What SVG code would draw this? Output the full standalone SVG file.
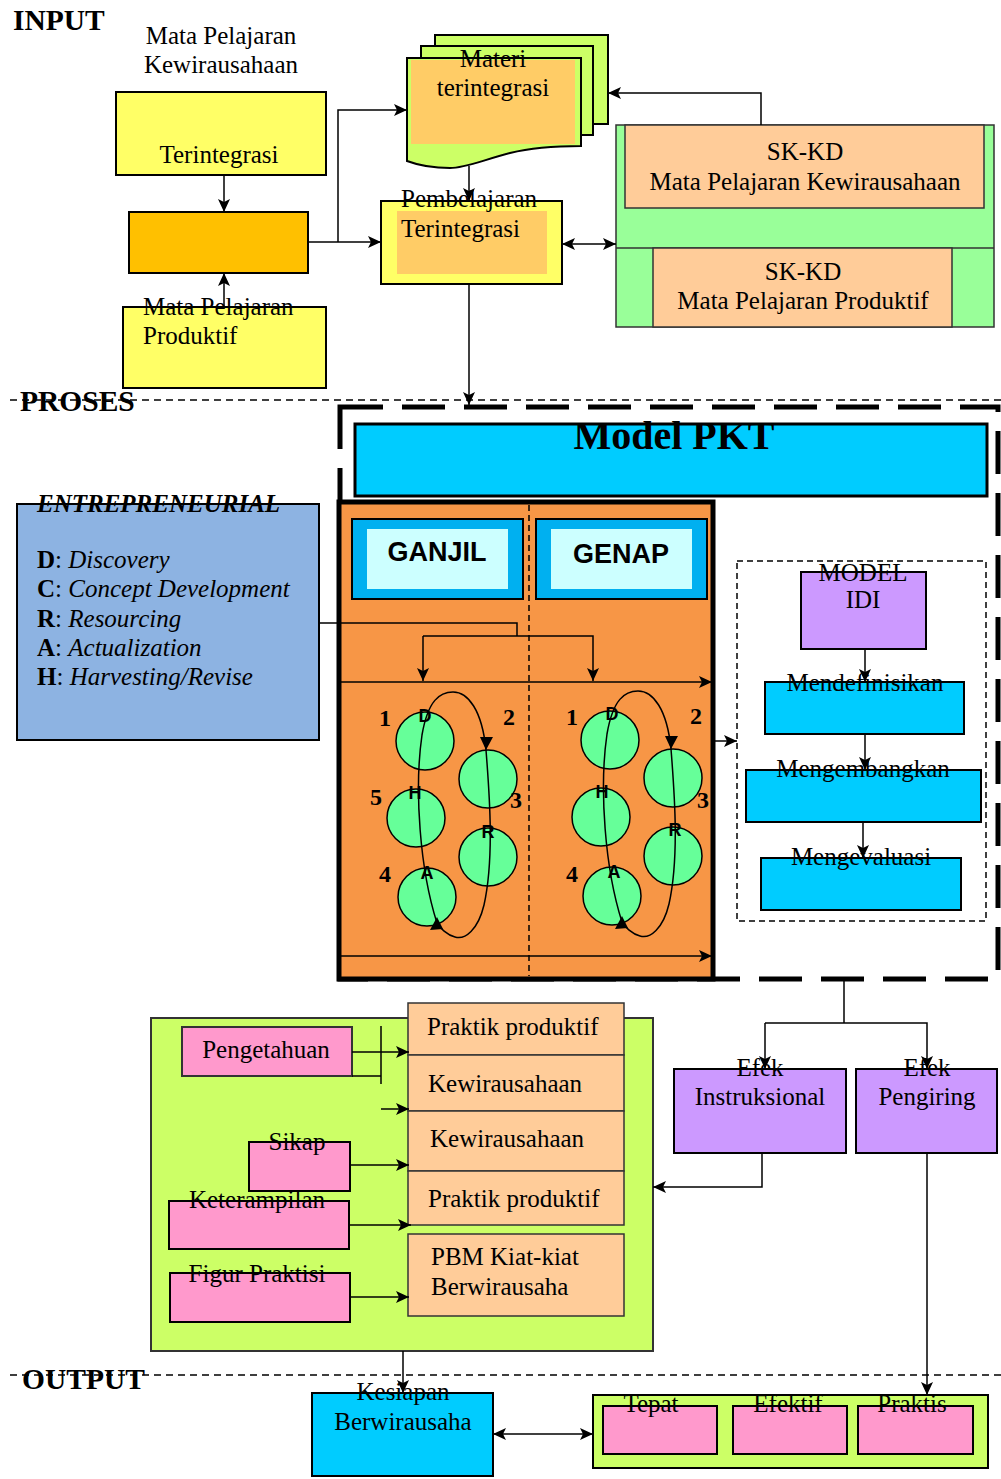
<svg xmlns="http://www.w3.org/2000/svg" width="1001" height="1479" viewBox="0 0 1001 1479">
<defs>
<style>
text{font-family:"Liberation Serif","Times New Roman",serif;font-size:25px;fill:#000}
.c{text-anchor:middle}
.hb{font-weight:bold;font-size:29.5px}
.sans{font-family:"Liberation Sans",Arial,sans-serif;font-weight:bold}
.lt{font-family:"Liberation Sans",Arial,sans-serif;font-weight:bold;font-size:18px;text-anchor:middle}
.num{font-weight:bold;text-anchor:middle;font-size:24px}
.bx{stroke:#000;stroke-width:2}
.ln{fill:none;stroke:#000;stroke-width:1.5}
.arr{marker-end:url(#ah)}
.dbl{marker-start:url(#ah);marker-end:url(#ah)}
.sep{fill:none;stroke:#000;stroke-width:1.5;stroke-dasharray:7 5}
.yel{fill:#FFFF66}
.cy{fill:#00CCFF}
.pk{fill:#FF99CC}
.pu{fill:#CC99FF}
.or{fill:#FFCC99}
.lg{fill:#CCFF66}
.circ{fill:#66FF99;stroke:#000;stroke-width:1.5}
</style>
<marker id="ah" markerUnits="userSpaceOnUse" markerWidth="14" markerHeight="12" refX="13" refY="6" orient="auto-start-reverse" viewBox="0 0 14 12"><path d="M0,0 L13,6 L0,12 L3,6 z" fill="#000"/></marker>
</defs>
<rect width="1001" height="1479" fill="#fff"/>

<!-- section separators -->
<g id="separators">
<line class="sep" x1="10" y1="400" x2="1001" y2="400"/>
<line class="sep" x1="10" y1="1375" x2="1001" y2="1375"/>
<text class="hb" x="13" y="30">INPUT</text>
<text class="hb" x="20" y="411">PROSES</text>
<text class="hb" x="22" y="1389">OUTPUT</text>
</g>

<!-- INPUT nodes -->
<g id="label-mpk">
<text class="c" x="221" y="44">Mata Pelajaran</text>
<text class="c" x="221" y="73">Kewirausahaan</text>
</g>
<g id="node-terintegrasi">
<rect class="bx yel" x="116" y="92" width="210" height="83"/>
<text class="c" x="219" y="163">Terintegrasi</text>
</g>
<g id="node-amber">
<rect class="bx" x="129" y="212" width="179" height="61" fill="#FFC000"/>
</g>
<g id="node-produktif">
<rect class="bx yel" x="123" y="307" width="203" height="81"/>
<text x="143" y="315">Mata Pelajaran</text>
<text x="143" y="344">Produktif</text>
</g>
<g id="node-materi">
<rect x="435" y="35" width="173" height="89" fill="#CCFF66" stroke="#000" stroke-width="2"/>
<rect x="421" y="46" width="172" height="89" fill="#CCFF66" stroke="#000" stroke-width="2"/>
<path d="M407,58 H581 V146 C555,146 530,148 510,153 C480,161 465,168 450,168 C430,168 415,164 407,161 Z" fill="#CCFF66" stroke="#000" stroke-width="2"/>
<rect x="411" y="60" width="164" height="84" fill="#FFCC66"/>
<text class="c" x="493" y="67">Materi</text>
<text class="c" x="493" y="96">terintegrasi</text>
</g>
<g id="node-pembelajaran">
<rect class="bx yel" x="381" y="201" width="181" height="83"/>
<rect x="397" y="211" width="150" height="63" fill="#FFCC66"/>
<text x="401" y="207">Pembelajaran</text>
<text x="401" y="237">Terintegrasi</text>
</g>
<g id="node-skkd">
<rect x="616" y="125" width="378" height="202" fill="#99FF99" stroke="#333" stroke-width="1.5"/>
<rect x="625" y="125" width="359" height="83" class="or" stroke="#333" stroke-width="1.5"/>
<line x1="616" y1="248" x2="994" y2="248" stroke="#333" stroke-width="1.5"/>
<rect x="653" y="248" width="299" height="79" class="or" stroke="#333" stroke-width="1.5"/>
<text class="c" x="805" y="160">SK-KD</text>
<text class="c" x="805" y="190">Mata Pelajaran Kewirausahaan</text>
<text class="c" x="803" y="280">SK-KD</text>
<text class="c" x="803" y="309">Mata Pelajaran Produktif</text>
</g>

<!-- PROSES -->
<g id="frame-model-pkt">
<rect x="340" y="407" width="658" height="572" fill="none" stroke="#000" stroke-width="5" stroke-dasharray="43 19"/>
</g>
<g id="node-model-pkt">
<rect x="355" y="424" width="632" height="72" class="cy" stroke="#000" stroke-width="3"/>
<text class="c" x="674" y="449" style="font-size:40px;font-weight:bold">Model PKT</text>
</g>
<g id="node-entrepreneurial">
<rect x="17" y="504" width="302" height="236" fill="#8DB3E2" stroke="#000" stroke-width="2"/>
<text x="37" y="512" style="font-weight:bold;font-style:italic">ENTREPRENEURIAL</text>
<text x="37" y="568"><tspan font-weight="bold">D</tspan>: <tspan font-style="italic">Discovery</tspan></text>
<text x="37" y="597"><tspan font-weight="bold">C</tspan>: <tspan font-style="italic">Concept Development</tspan></text>
<text x="37" y="627"><tspan font-weight="bold">R</tspan>: <tspan font-style="italic">Resourcing</tspan></text>
<text x="37" y="656"><tspan font-weight="bold">A</tspan>: <tspan font-style="italic">Actualization</tspan></text>
<text x="37" y="685"><tspan font-weight="bold">H</tspan>: <tspan font-style="italic">Harvesting/Revise</tspan></text>
</g>
<g id="node-panel">
<rect x="339" y="502" width="374" height="477" fill="#F79646" stroke="#000" stroke-width="5"/>
<line x1="529" y1="505" x2="529" y2="976" stroke="#000" stroke-width="1.5" stroke-dasharray="6 4"/>
</g>
<g id="node-ganjil">
<rect x="352" y="519" width="171" height="80" fill="#00B0F0" stroke="#000" stroke-width="2"/>
<rect x="367" y="529" width="141" height="60" fill="#CCFFFF"/>
<text class="sans c" x="437" y="561" style="font-size:27px">GANJIL</text>
</g>
<g id="node-genap">
<rect x="536" y="519" width="171" height="80" fill="#00B0F0" stroke="#000" stroke-width="2"/>
<rect x="551" y="529" width="141" height="60" fill="#CCFFFF"/>
<text class="sans c" x="621" y="563" style="font-size:27px">GENAP</text>
</g>
<g id="cycle-ganjil">
<circle class="circ" cx="425" cy="741" r="29"/>
<circle class="circ" cx="488" cy="779" r="29"/>
<circle class="circ" cx="416" cy="818" r="29"/>
<circle class="circ" cx="488" cy="857" r="29"/>
<circle class="circ" cx="427" cy="897" r="29"/>
<path class="ln" d="M437,923 C420,870 414,790 422,735 C428,700 440,692 453,692 C468,692 482,710 486,750 C490,800 494,860 484,905 C478,930 465,940 455,937 C447,935 440,928 437,923"/>
<path d="M480,737 L493,737 L486,750 z" fill="#000"/>
<path d="M437,917 L430,930 L443,929 z" fill="#000"/>
<text class="lt" x="425" y="722">D</text>
<text class="lt" x="415" y="799">H</text>
<text class="lt" x="488" y="838">R</text>
<text class="lt" x="427" y="879">A</text>
<text class="num" x="385" y="726">1</text>
<text class="num" x="509" y="725">2</text>
<text class="num" x="516" y="808">3</text>
<text class="num" x="385" y="882">4</text>
<text class="num" x="376" y="805">5</text>
</g>
<g id="cycle-genap">
<g transform="translate(185,-1)">
<circle class="circ" cx="425" cy="741" r="29"/>
<circle class="circ" cx="488" cy="779" r="29"/>
<circle class="circ" cx="416" cy="818" r="29"/>
<circle class="circ" cx="488" cy="857" r="29"/>
<circle class="circ" cx="427" cy="897" r="29"/>
<path class="ln" d="M437,923 C420,870 414,790 422,735 C428,700 440,692 453,692 C468,692 482,710 486,750 C490,800 494,860 484,905 C478,930 465,940 455,937 C447,935 440,928 437,923"/>
<path d="M480,737 L493,737 L486,750 z" fill="#000"/>
<path d="M437,917 L430,930 L443,929 z" fill="#000"/>
<text class="lt" x="427" y="721">D</text>
<text class="lt" x="417" y="799">H</text>
<text class="lt" x="490" y="837">R</text>
<text class="lt" x="429" y="879">A</text>
</g>
<text class="num" x="572" y="725">1</text>
<text class="num" x="696" y="724">2</text>
<text class="num" x="703" y="808">3</text>
<text class="num" x="572" y="882">4</text>
</g>
<g id="frame-idi">
<rect x="737" y="561" width="249" height="360" fill="none" stroke="#000" stroke-width="1.5" stroke-dasharray="6 4"/>
</g>
<g id="node-model-idi">
<rect x="801" y="572" width="125" height="77" class="pu" stroke="#000" stroke-width="2"/>
<text class="c" x="863" y="581">MODEL</text>
<text class="c" x="863" y="608">IDI</text>
</g>
<g id="node-mendefinisikan">
<rect x="765" y="682" width="199" height="52" class="cy" stroke="#000" stroke-width="2"/>
<text class="c" x="865" y="691">Mendefinisikan</text>
</g>
<g id="node-mengembangkan">
<rect x="746" y="770" width="235" height="52" class="cy" stroke="#000" stroke-width="2"/>
<text class="c" x="863" y="777">Mengembangkan</text>
</g>
<g id="node-mengevaluasi">
<rect x="761" y="858" width="200" height="52" class="cy" stroke="#000" stroke-width="2"/>
<text class="c" x="861" y="865">Mengevaluasi</text>
</g>
<g id="node-efek-instruksional">
<rect x="674" y="1069" width="172" height="84" class="pu" stroke="#000" stroke-width="2"/>
<text class="c" x="760" y="1076">Efek</text>
<text class="c" x="760" y="1105">Instruksional</text>
</g>
<g id="node-efek-pengiring">
<rect x="856" y="1069" width="141" height="84" class="pu" stroke="#000" stroke-width="2"/>
<text class="c" x="927" y="1076">Efek</text>
<text class="c" x="927" y="1105">Pengiring</text>
</g>
<g id="node-hasil">
<rect x="151" y="1018" width="502" height="333" class="lg" stroke="#333" stroke-width="2"/>
<rect x="408" y="1003" width="216" height="52" class="or" stroke="#333" stroke-width="1.5"/>
<rect x="408" y="1055" width="216" height="56" class="or" stroke="#333" stroke-width="1.5"/>
<rect x="408" y="1111" width="216" height="60" class="or" stroke="#333" stroke-width="1.5"/>
<rect x="408" y="1171" width="216" height="54" class="or" stroke="#333" stroke-width="1.5"/>
<rect x="408" y="1234" width="216" height="82" class="or" stroke="#333" stroke-width="1.5"/>
<text x="427" y="1035">Praktik produktif</text>
<text x="428" y="1092">Kewirausahaan</text>
<text x="430" y="1147">Kewirausahaan</text>
<text x="428" y="1207">Praktik produktif</text>
<text x="431" y="1265">PBM Kiat-kiat</text>
<text x="431" y="1295">Berwirausaha</text>
</g>
<g id="node-pengetahuan">
<rect x="182" y="1027" width="170" height="49" class="pk" stroke="#333" stroke-width="2"/>
<text class="c" x="266" y="1058">Pengetahuan</text>
</g>
<g id="node-sikap">
<rect x="249" y="1142" width="101" height="49" class="pk" stroke="#000" stroke-width="2"/>
<text class="c" x="297" y="1150">Sikap</text>
</g>
<g id="node-keterampilan">
<rect x="169" y="1201" width="180" height="48" class="pk" stroke="#000" stroke-width="2"/>
<text class="c" x="257" y="1208">Keterampilan</text>
</g>
<g id="node-figur">
<rect x="170" y="1273" width="180" height="49" class="pk" stroke="#000" stroke-width="2"/>
<text class="c" x="257" y="1282">Figur Praktisi</text>
</g>
<g id="node-kesiapan">
<rect x="312" y="1393" width="181" height="83" class="cy" stroke="#000" stroke-width="2"/>
<text class="c" x="403" y="1400">Kesiapan</text>
<text class="c" x="403" y="1430">Berwirausaha</text>
</g>
<g id="node-kriteria">
<rect x="593" y="1395" width="395" height="73" class="lg" stroke="#000" stroke-width="2"/>
<rect x="603" y="1406" width="114" height="48" class="pk" stroke="#000" stroke-width="2"/>
<rect x="733" y="1406" width="114" height="48" class="pk" stroke="#000" stroke-width="2"/>
<rect x="858" y="1406" width="115" height="48" class="pk" stroke="#000" stroke-width="2"/>
<text class="c" x="651" y="1412">Tepat</text>
<text class="c" x="788" y="1412">Efektif</text>
<text class="c" x="912" y="1412">Praktis</text>
</g>

<!-- connectors -->
<g id="connectors">
<path class="ln arr" d="M224,175 V212"/>
<path class="ln arr" d="M224,307 V273"/>
<path class="ln arr" d="M308,242 H381"/>
<path class="ln arr" d="M338,242 V110 H407"/>
<path class="ln arr" d="M469,166 V201"/>
<path class="ln arr" d="M761,125 V93 H608"/>
<path class="ln dbl" d="M562,244 H616"/>
<path class="ln arr" d="M469,284 V405"/>
<path class="ln" d="M319,623 H517 V636"/>
<path class="ln arr" d="M423,636 H593 V681"/>
<path class="ln arr" d="M423,636 V681"/>
<path class="ln arr" d="M341,682 H712"/>
<path class="ln arr" d="M341,956 H712"/>
<path class="ln arr" d="M715,741 H737"/>
<path class="ln arr" d="M865,649 V682"/>
<path class="ln arr" d="M865,734 V770"/>
<path class="ln arr" d="M863,822 V858"/>
<path class="ln" d="M844,981 V1023"/>
<path class="ln arr" d="M765,1023 H927 V1069"/>
<path class="ln arr" d="M765,1023 V1069"/>
<path class="ln arr" d="M762,1153 V1187 H653"/>
<path class="ln arr" d="M927,1153 V1395"/>
<path class="ln arr" d="M352,1052 H409"/>
<path class="ln" d="M352,1076 H381 M381,1026 V1084" stroke="#333"/>
<path class="ln arr" d="M381,1109 H409"/>
<path class="ln arr" d="M350,1165 H409"/>
<path class="ln arr" d="M349,1225 H411"/>
<path class="ln arr" d="M350,1297 H409"/>
<path class="ln arr" d="M403,1351 V1393"/>
<path class="ln dbl" d="M493,1434 H593"/>
</g>
</svg>
